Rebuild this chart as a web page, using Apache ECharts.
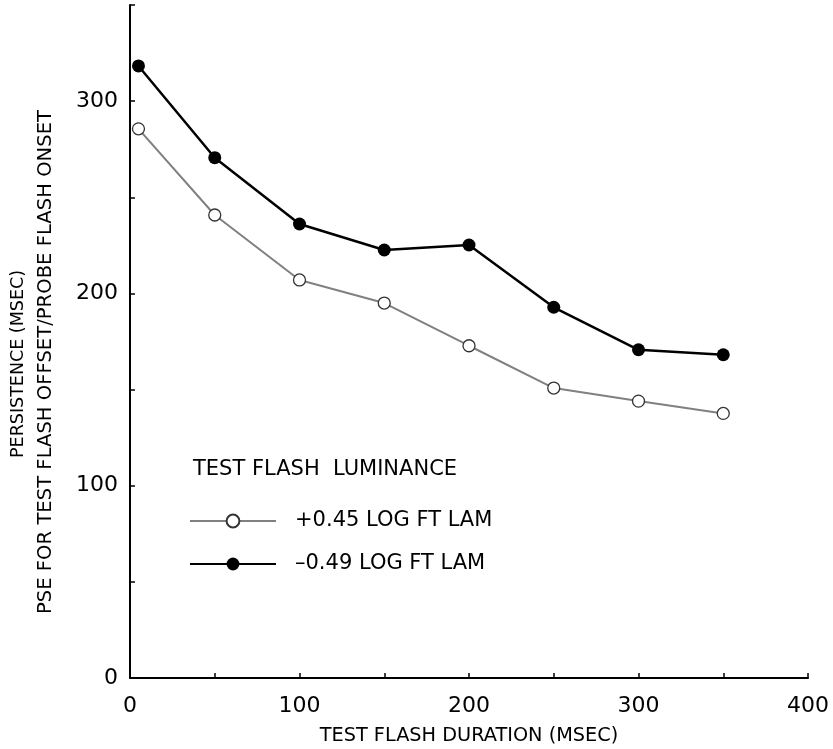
<!DOCTYPE html>
<html>
<head>
<meta charset="utf-8">
<script src="https://cdn.jsdelivr.net/npm/echarts@6/dist/echarts.min.js"></script>
<style>
  html, body { margin: 0; padding: 0; background: #fff; }
  #chart { width: 833px; height: 749px; }
</style>
</head>
<body>
<div id="chart"></div>
<script>
// Test flash durations (msec)
const durations = [5, 50, 100, 150, 200, 250, 300, 350];
// Persistence (msec) for each luminance level
const brightSeries = [285.6, 240.8, 207.0, 195.0, 172.8, 150.8, 144.0, 137.6];
const dimSeries = [318.3, 270.6, 236.1, 222.6, 225.2, 192.8, 170.7, 168.1];
const seriesNames = ['+0.45 LOG FT LAM', '\u20130.49 LOG FT LAM'];
const xTicks = [0, 100, 200, 300, 400];
const yTicks = [0, 100, 200, 300];

const FONT = 'DejaVu Sans';

function legendFor(name, top) {
  return {
    left: 184, top: top, orient: 'vertical',
    itemWidth: 86, itemHeight: 16,
    textStyle: { color: '#000', fontFamily: FONT, fontSize: 21, lineHeight: 24, padding: [0, 0, 0, 14] },
    data: [name]
  };
}

const chart = echarts.init(document.getElementById('chart'));
chart.setOption({
  animation: false,
  backgroundColor: '#fff',
  grid: { left: 130, right: 25, top: 5, bottom: 71, containLabel: false, outerBoundsMode: 'none' },
  xAxis: {
    type: 'value', min: 0, max: 400, interval: 50,
    axisLine: { lineStyle: { color: '#000', width: 2 } },
    axisTick: { inside: true, length: 5, lineStyle: { color: '#000', width: 1.5 } },
    splitLine: { show: false },
    axisLabel: {
      color: '#000', fontFamily: FONT, fontSize: 22, margin: 17,
      formatter: v => xTicks.includes(v) ? String(v) : ''
    },
    name: 'TEST FLASH DURATION (MSEC)', nameLocation: 'middle', nameGap: 48,
    nameTextStyle: { color: '#000', fontFamily: FONT, fontSize: 19.3 }
  },
  yAxis: {
    type: 'value', min: 0, max: 350, interval: 50,
    axisLine: { lineStyle: { color: '#000', width: 2 } },
    axisTick: { inside: true, length: 5, lineStyle: { color: '#000', width: 1.5 } },
    splitLine: { show: false },
    axisLabel: {
      color: '#000', fontFamily: FONT, fontSize: 22, margin: 12,
      formatter: v => yTicks.includes(v) ? String(v) : ''
    }
  },
  graphic: [
    {
      type: 'text', x: 18, y: 364, rotation: Math.PI / 2,
      style: { text: 'PERSISTENCE (MSEC)', fill: '#000', font: '17.5px "' + FONT + '"',
               textAlign: 'center', textVerticalAlign: 'middle' }
    },
    {
      type: 'text', x: 46, y: 362, rotation: Math.PI / 2,
      style: { text: 'PSE FOR TEST FLASH OFFSET/PROBE FLASH ONSET', fill: '#000', font: '19.6px "' + FONT + '"',
               textAlign: 'center', textVerticalAlign: 'middle' }
    },
    {
      type: 'text', x: 193, y: 470,
      style: { text: 'TEST FLASH  LUMINANCE', fill: '#000', font: '21px "' + FONT + '"',
               textAlign: 'left', textVerticalAlign: 'middle' }
    }
  ],
  legend: [legendFor(seriesNames[0], 504), legendFor(seriesNames[1], 547)],
  series: [
    {
      name: seriesNames[0], type: 'line',
      data: durations.map((d, i) => [d, brightSeries[i]]),
      symbol: 'circle', symbolSize: 12,
      lineStyle: { color: '#808080', width: 2 },
      itemStyle: { color: '#fff', borderColor: '#333', borderWidth: 1.3 },
      color: '#808080'
    },
    {
      name: seriesNames[1], type: 'line',
      data: durations.map((d, i) => [d, dimSeries[i]]),
      symbol: 'circle', symbolSize: 13,
      lineStyle: { color: '#000', width: 2.5 },
      itemStyle: { color: '#000' },
      color: '#000'
    }
  ]
});
</script>
</body>
</html>
